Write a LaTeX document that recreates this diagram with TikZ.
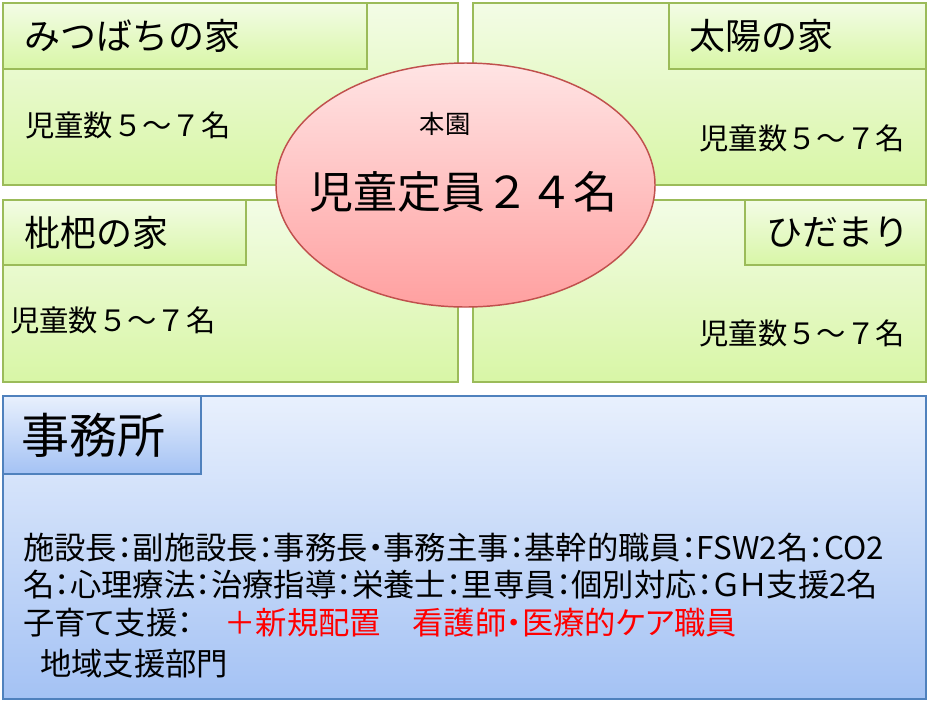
\documentclass[tikz,border=0pt]{standalone}
\usepackage{fontspec}
\setmainfont{Noto Sans CJK JP}
\newfontfamily\jpprop[RawFeature=+palt]{Noto Sans CJK JP}
\usepackage{tikz}
\usetikzlibrary{shapes.geometric}
\usetikzlibrary{positioning}

\definecolor{grnline}{RGB}{155,187,89}
\definecolor{grntop}{RGB}{243,252,230}
\definecolor{grnbot}{RGB}{216,246,166}
\definecolor{redline}{RGB}{192,80,77}
\definecolor{redtop}{RGB}{255,228,228}
\definecolor{redbot}{RGB}{255,160,160}
\definecolor{bluline}{RGB}{79,129,189}
\definecolor{blutop}{RGB}{232,240,253}
\definecolor{blubot}{RGB}{164,194,244}

\begin{document}
\begin{tikzpicture}[x=0.75pt, y=-0.75pt,
        house_style/.style={rectangle,draw=grnline,line width=1.5pt,top color=grntop,bottom color=grnbot,inner sep=0pt},
        tab_style/.style={house_style},
        main_style/.style={ellipse,draw=redline,line width=1.1pt,top color=redtop,bottom color=redbot,inner sep=0pt},
        office_style/.style={rectangle,draw=bluline,line width=1.5pt,top color=blutop,bottom color=blubot,inner sep=0pt},
        title_text/.style={inner sep=0pt,font=\fontsize{27}{31}\selectfont},
        count_text/.style={inner sep=0pt,font=\fontsize{22}{26}\selectfont},
        staff_text/.style={inner sep=0pt,font=\jpprop\fontsize{23.5}{28}\selectfont}]

        \useasboundingbox (0,0) rectangle (927,701);

        % four houses
        \node [house_style, minimum width=341.25pt, minimum height=136.5pt](h1) at (230.5,94) {};
    
        \node [house_style, minimum width=339.75pt, minimum height=136.5pt](h2) at (699.5,94) {};
    
        \node [house_style, minimum width=341.25pt, minimum height=136.5pt](h3) at (230.5,291) {};
    
        \node [house_style, minimum width=339.75pt, minimum height=136.5pt](h4) at (699.5,291) {};
    
        \node [tab_style, minimum width=273pt, minimum height=49.5pt](t1) at (185,36) {};
    
        \node [tab_style, minimum width=192.75pt, minimum height=49.5pt](t2) at (797.5,36) {};
    
        \node [tab_style, minimum width=182.25pt, minimum height=48.75pt](t3) at (124.5,232.5) {};
    
        \node [tab_style, minimum width=135.75pt, minimum height=48.75pt](t4) at (835.5,232.5) {};
    
        \node [title_text, right=16.5pt of t1.west](n1) {みつばちの家};
    
        \node [title_text, right=15.75pt of t2.west](n2) {太陽の家};
    
        \node [title_text, right=16.5pt of t3.west](n3) {枇杷の家};
    
        \node [title_text, right=16.5pt of t4.west](n4) {ひだまり};
    
        \node [count_text, anchor=west](c1) at (25,125) {児童数５～７名};
    
        \node [count_text, anchor=east](c2) at (905,138) {児童数５～７名};
    
        \node [count_text, anchor=west](c3) at (10,320) {児童数５～７名};
    
        \node [count_text, anchor=east](c4) at (905,333) {児童数５～７名};

        % main house
        \node [main_style, minimum width=284.25pt, minimum height=183pt](e1) at (465.5,185) {};
    
        \node [inner sep=0pt, font=\fontsize{19}{22}\selectfont](m1) at (445,124) {本園};
    
        \node [inner sep=0pt, font=\fontsize{33}{38}\selectfont](m2) at (463,192) {児童定員２４名};

        % office
        \node [office_style, minimum width=692.25pt, minimum height=227.25pt](o1) at (464.5,547.5) {};
    
        \node [office_style, minimum width=148.5pt, minimum height=58.5pt](o2) at (102,435) {};
    
        \node [inner sep=0pt, font=\fontsize{36}{40}\selectfont, right=14.25pt of o2.west](o3) {事務所};
    
        \node [staff_text, anchor=west](s1) at (23,548) {施設長：副施設長：事務長・事務主事：基幹的職員：FSW2名：CO2};
    
        \node [staff_text, anchor=west](s2) at (23,585) {名：心理療法：治療指導：栄養士：里専員：個別対応：ＧＨ支援2名};
    
        \node [staff_text, anchor=west](s3) at (23,623) {子育て支援：　\textcolor{red}{＋新規配置　看護師・医療的ケア職員}};
    
        \node [staff_text, anchor=west](s4) at (40,664) {地域支援部門};
    
        \end{tikzpicture}
\end{document}
